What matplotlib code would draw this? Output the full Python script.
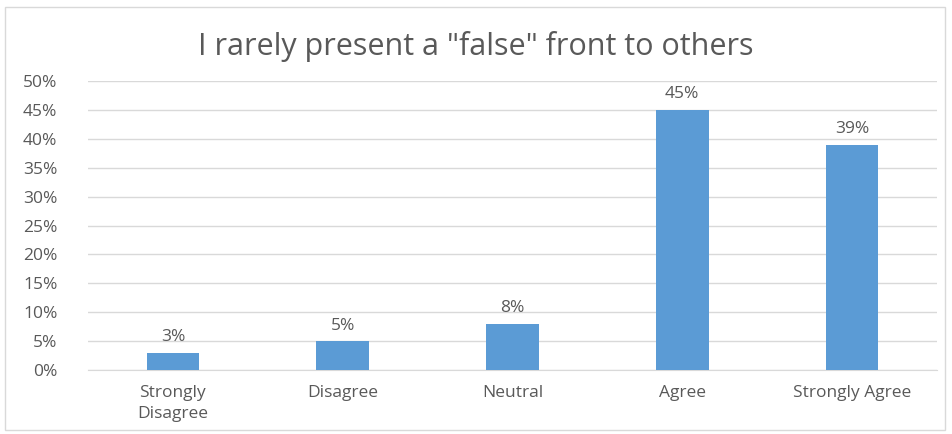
import matplotlib
matplotlib.use("Agg")
import matplotlib.pyplot as plt
from matplotlib.patches import Rectangle
from matplotlib.ticker import FuncFormatter, MultipleLocator

categories = ["Strongly\nDisagree", "Disagree", "Neutral", "Agree", "Strongly Agree"]
values = [3, 5, 8, 45, 39]
title = 'I rarely present a "false" front to others'

plt.rcParams['font.family'] = ['Open Sans', 'DejaVu Sans']

fig = plt.figure(figsize=(9.52, 4.34), dpi=100)
fig.patch.set_facecolor("white")
fig.patches.append(Rectangle((5/952, 4/434), 940/952, 423/434, transform=fig.transFigure,
                             fill=False, edgecolor="#D9D9D9", linewidth=1.0))

ax = fig.add_axes([88/952, 1 - 370/434, (937 - 88)/952, (370 - 81)/434])
x = range(len(categories))
bars = ax.bar(x, values, width=0.31, color="#5B9BD5", zorder=3)
for xi, v in zip(x, values):
    ax.text(xi, v + 1.3, f"{v}%", ha="center", va="bottom", fontsize=12.5, color="#595959")

ax.set_xlim(-0.5, len(categories) - 0.5)
ax.set_ylim(0, 50)
ax.yaxis.set_major_locator(MultipleLocator(5))
ax.yaxis.set_major_formatter(FuncFormatter(lambda v, p: f"{int(v)}%"))
ax.set_xticks(list(x))
ax.set_xticklabels(categories, linespacing=1.4)
ax.tick_params(axis="both", length=0, colors="#595959", labelsize=12.5)
ax.tick_params(axis="x", pad=11)
ax.tick_params(axis="y", pad=22)
ax.grid(axis="y", color="#D9D9D9", linewidth=1.0, zorder=0)
for s in ["top", "right", "left"]:
    ax.spines[s].set_visible(False)
ax.spines["bottom"].set_color("#D9D9D9")
ax.set_facecolor("white")

fig.text(0.5, 1 - 46/434, title, ha="center", va="center", fontsize=22, color="#595959")

fig.savefig("out.png", dpi=100)
